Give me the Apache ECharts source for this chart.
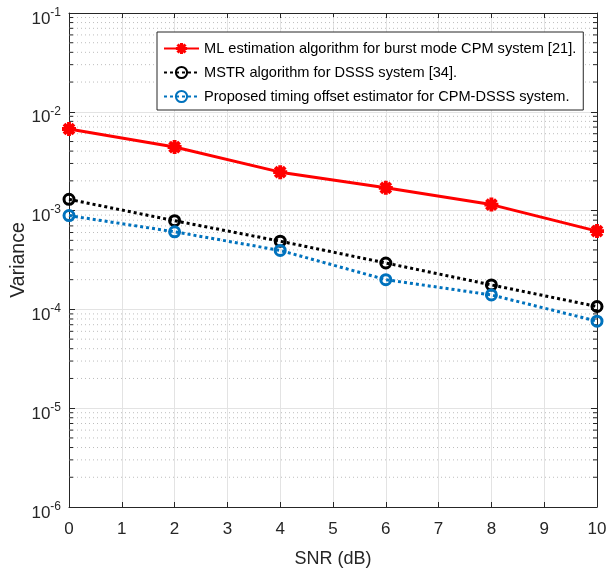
<!DOCTYPE html>
<html>
<head>
<meta charset="utf-8">
<script src="https://cdn.jsdelivr.net/npm/echarts@6/dist/echarts.min.js"></script>
<style>html,body{margin:0;padding:0;background:#fff;}#c{width:607px;height:570px;}</style>
</head>
<body>
<div id="c"></div>
<script>
const snr = [0, 2, 4, 6, 8, 10];
const mlVar = [6.7e-3, 4.4e-3, 2.45e-3, 1.7e-3, 1.15e-3, 6.2e-4];
const mstrVar = [1.3e-3, 7.9e-4, 4.9e-4, 2.95e-4, 1.77e-4, 1.07e-4];
const propVar = [8.9e-4, 6.1e-4, 3.95e-4, 2.0e-4, 1.4e-4, 7.6e-5];
const xTicks = [0, 1, 2, 3, 4, 5, 6, 7, 8, 9, 10];
const yExponents = [-6, -5, -4, -3, -2, -1];
const minorFactors = [2, 3, 4, 5, 6, 7, 8, 9];
const seriesNames = [
  'ML estimation algorithm for burst mode CPM system [21].',
  'MSTR algorithm for DSSS system [34].',
  'Proposed timing offset estimator for CPM-DSSS system.'
];

const FONT = "'Liberation Sans', Arial, Helvetica, sans-serif";
const AX = '#262626';

const minorVals = [];
for (let i = 0; i < yExponents.length - 1; i++) {
  minorFactors.forEach(f => minorVals.push([0, f * Math.pow(10, yExponents[i])]));
}

const starPath = 'path://M1,7.5L19,7.5L19,12.5L1,12.5Z M7.5,1L12.5,1L12.5,19L7.5,19Z M5.37,1.83L18.17,14.63L14.63,18.17L1.83,5.37Z M14.63,1.83L18.17,5.37L5.37,18.17L1.83,14.63Z';

const pairs = arr => snr.map((x, i) => [x, arr[i]]);

const chart = echarts.init(document.getElementById('c'), null, {renderer: 'canvas'});
chart.setOption({
  animation: false,
  backgroundColor: '#fff',
  grid: {left: 69, right: 10, top: 13, bottom: 63, containLabel: false, outerBoundsMode: 'none'},
  legend: {
    data: seriesNames,
    orient: 'vertical',
    left: 157,
    top: 32,
    padding: [9, 7, 6, 6],
    itemGap: 9,
    itemWidth: 35,
    itemHeight: 14,
    backgroundColor: '#fff',
    borderColor: AX,
    borderWidth: 1,
    borderRadius: 0,
    textStyle: {fontFamily: FONT, fontSize: 14.6, color: '#000', padding: [0, 0, 0, 0]}
  },
  xAxis: [{
    type: 'value', min: 0, max: 10, interval: 1,
    name: 'SNR (dB)', nameLocation: 'middle', nameGap: 43, nameMoveOverlap: false,
    nameTextStyle: {fontFamily: FONT, fontSize: 18, color: AX},
    axisLine: {show: true, lineStyle: {color: AX, width: 1}},
    axisTick: {show: true, inside: true, length: 5, lineStyle: {color: AX}},
    axisLabel: {fontFamily: FONT, fontSize: 17, color: AX, margin: 14,
      formatter: v => xTicks.includes(v) ? String(v) : ''},
    splitLine: {show: true, lineStyle: {color: '#e3e3e3', width: 1}}
  }, {
    type: 'value', min: 0, max: 10, interval: 1, position: 'top',
    axisLine: {show: true, onZero: false, lineStyle: {color: AX, width: 1}},
    axisTick: {show: true, inside: true, length: 5, lineStyle: {color: AX}},
    axisLabel: {show: false}, splitLine: {show: false}
  }],
  yAxis: [{
    type: 'log', logBase: 10, min: 1e-6, max: 1e-1,
    name: 'Variance', nameLocation: 'middle', nameGap: 40, nameMoveOverlap: false,
    nameTextStyle: {fontFamily: FONT, fontSize: 19.5, color: AX},
    axisLine: {show: true, lineStyle: {color: AX, width: 1}},
    axisTick: {show: true, inside: true, length: 6, lineStyle: {color: AX}},
    axisLabel: {
      margin: 8,
      formatter: v => {
        const e = Math.round(Math.log10(v));
        return '{b|10}{s|' + e + '}';
      },
      rich: {
        b: {fontFamily: FONT, fontSize: 17, color: AX, padding: [12, 0, 0, 0], verticalAlign: 'bottom'},
        s: {fontFamily: FONT, fontSize: 12, color: AX, padding: [8, 0, 0, 0], verticalAlign: 'top'}
      }
    },
    splitLine: {show: true, lineStyle: {color: '#e3e3e3', width: 1}}
  }, {
    type: 'log', logBase: 10, min: 1e-6, max: 1e-1, position: 'right',
    axisLine: {show: true, onZero: false, lineStyle: {color: AX, width: 1}},
    axisTick: {show: true, inside: true, length: 6, lineStyle: {color: AX}},
    axisLabel: {show: false}, splitLine: {show: false}
  }],
  series: [{
    type: 'custom',
    name: 'minorGrid',
    silent: true,
    clip: false,
    z: 1,
    data: minorVals,
    renderItem: (params, api) => {
      const v = api.value(1);
      const l = api.coord([0, v]);
      const r = api.coord([10, v]);
      return {
        type: 'group',
        children: [
          {type: 'line', shape: {x1: l[0], y1: l[1], x2: r[0], y2: r[1]},
            style: {stroke: '#bdbdbd', lineWidth: 1, lineDash: [1, 3]}},
          {type: 'line', shape: {x1: l[0], y1: l[1], x2: l[0] + 4, y2: l[1]},
            style: {stroke: AX, lineWidth: 1}},
          {type: 'line', shape: {x1: r[0] - 4, y1: r[1], x2: r[0], y2: r[1]},
            style: {stroke: AX, lineWidth: 1}}
        ]
      };
    }
  }, {
    type: 'line', name: seriesNames[0], data: pairs(mlVar), z: 5,
    symbol: starPath, symbolSize: 14,
    lineStyle: {color: '#ff0000', width: 3, type: 'solid'},
    itemStyle: {color: '#ff0000'}
  }, {
    type: 'line', name: seriesNames[1], data: pairs(mstrVar), z: 4,
    symbol: 'circle', symbolSize: 10,
    lineStyle: {color: '#000000', width: 3, type: [3, 3]},
    itemStyle: {color: 'rgba(255,255,255,0)', borderColor: '#000000', borderWidth: 3}
  }, {
    type: 'line', name: seriesNames[2], data: pairs(propVar), z: 4,
    symbol: 'circle', symbolSize: 10,
    lineStyle: {color: '#0072BD', width: 3, type: [3, 3]},
    itemStyle: {color: 'rgba(255,255,255,0)', borderColor: '#0072BD', borderWidth: 3}
  }]
});
</script>
</body>
</html>
